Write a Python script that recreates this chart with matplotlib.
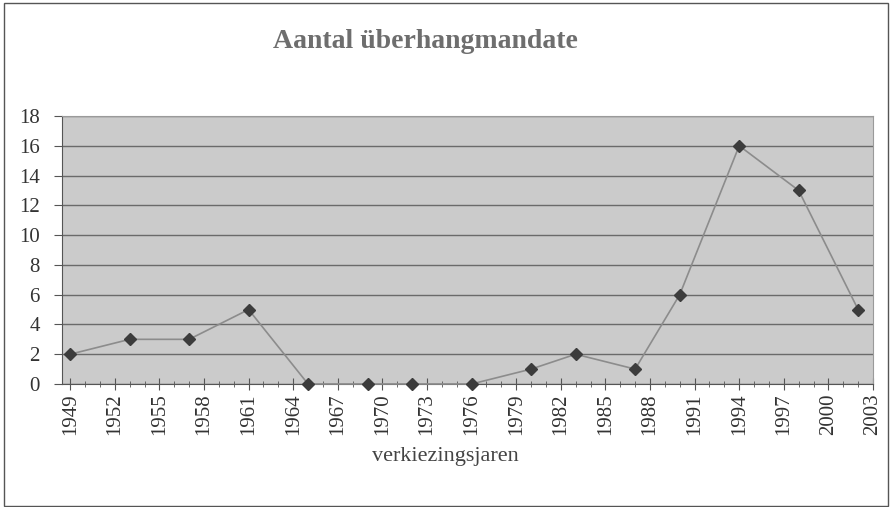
import matplotlib
matplotlib.use("Agg")
import matplotlib.pyplot as plt
from matplotlib.ticker import MultipleLocator
from matplotlib.patches import Rectangle

years = [1949, 1953, 1957, 1961, 1965, 1969, 1972, 1976, 1980, 1983, 1987, 1990, 1994, 1998, 2002]
values = [2, 3, 3, 5, 0, 0, 0, 0, 1, 2, 1, 6, 16, 13, 5]
tick_years = list(range(1949, 2004, 3))
y_ticks = list(range(0, 19, 2))

title = "Aantal überhangmandate"
xlabel = "verkiezingsjaren"

plt.rcParams['font.family'] = ['Liberation Serif', 'DejaVu Serif']

fig = plt.figure(figsize=(8.93, 5.07), dpi=100)
fig.patch.set_facecolor('white')
# outer chart border
fig.patches.append(Rectangle((4/893, 1/507), 884/893, 503/507, transform=fig.transFigure,
                             fill=False, edgecolor='#555555', linewidth=1.0))

ax = fig.add_axes([62/893, 1 - 384/507, (873-62)/893, (384-116)/507])
ax.set_facecolor('#cbcbcb')
ax.plot(years, values, color='#8c8c8c', linewidth=1.2, marker='D', markersize=6,
        markerfacecolor='#3c3c3c', markeredgecolor='#3c3c3c', zorder=3, clip_on=False)

ax.set_xlim(1948.45, 2003)
ax.set_ylim(0, 18)
ax.set_yticks(y_ticks)
ax.set_yticklabels([str(v) for v in y_ticks], fontsize=15, color='#333333')
ax.set_xticks(tick_years)
ax.set_xticklabels([str(y) for y in tick_years], rotation=90, fontsize=15, color='#333333')
ax.xaxis.set_minor_locator(MultipleLocator(1))
ax.tick_params(axis='x', which='major', length=8, direction='inout', color='#555555', pad=3)
ax.tick_params(axis='x', which='minor', length=5, direction='inout', color='#555555')
ax.tick_params(axis='y', which='major', length=6, direction='out', color='#555555', pad=10)
ax.yaxis.grid(True, color='#6a6a6a', linewidth=1.0)
ax.set_axisbelow(True)
for s in ['top', 'right']:
    ax.spines[s].set_color('#9a9a9a')
for s in ['left', 'bottom']:
    ax.spines[s].set_color('#555555')

fig.text(425/893, 1 - 42/507, title, ha='center', va='center', fontsize=20,
         color='#6e6e6e', fontweight='bold')
fig.text(445/893, 1 - 456/507, xlabel, ha='center', va='center', fontsize=16, color='#444444')

fig.savefig('out.png', dpi=100)
